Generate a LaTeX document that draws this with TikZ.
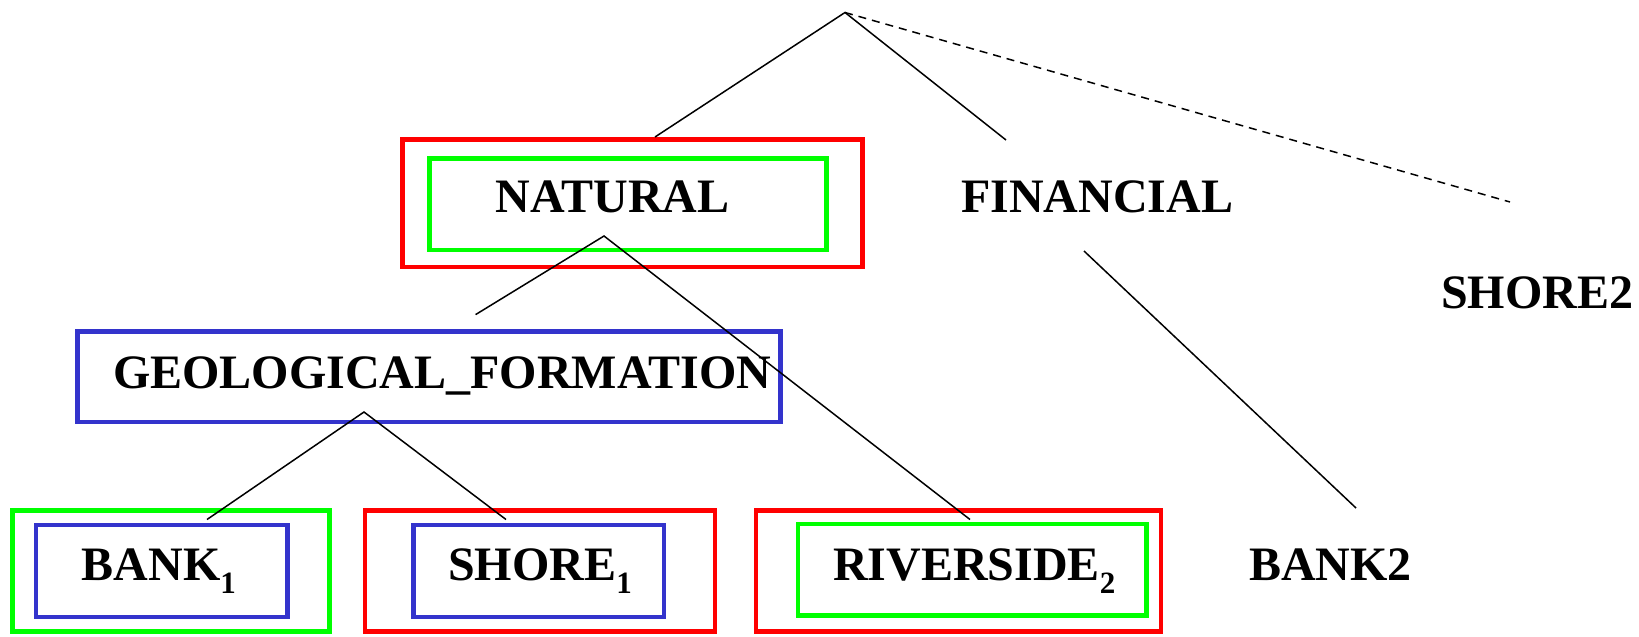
\documentclass[tikz,border=0pt]{standalone}
\usepackage{fontspec}
\setmainfont{Liberation Serif}
\definecolor{boxred}{RGB}{255,0,0}
\definecolor{boxgreen}{RGB}{0,255,0}
\definecolor{boxblue}{RGB}{51,51,204}
\newcommand\subidx[1]{\raisebox{-0.28em}{\fontsize{31}{31}\selectfont #1}}
\tikzset{
  frame/.style={draw, line width=4.5pt, rectangle, inner sep=0pt, minimum width=#1},
  redframe/.style={frame=10pt, draw=boxred},
  greenframe/.style={frame=10pt, draw=boxgreen},
  blueframe/.style={frame=10pt, draw=boxblue},
  label/.style={anchor=base west, inner sep=0pt, font=\fontsize{48}{56}\selectfont\bfseries},
  branch/.style={line width=1.5pt},
  guess/.style={line width=1.5pt, dash pattern=on 8pt off 6pt},
}
\begin{document}
\begin{tikzpicture}[x=1pt,y=-1pt]
\useasboundingbox (0,0) rectangle (1639,637);

% frames
\node[redframe, minimum width=460pt, minimum height=127.5pt] (natR) at (632.5,203) {};
\node[greenframe, minimum width=397pt, minimum height=91.5pt] (natG) at (628,204) {};
\node[blueframe, minimum width=703pt, minimum height=90.5pt] (geoB) at (429,376.5) {};
\node[greenframe, minimum width=317pt, minimum height=121pt] (bankG) at (171,571) {};
\node[blueframe, minimum width=251.5pt, minimum height=92pt] (bankB) at (161.5,570.8) {};
\node[redframe, minimum width=350pt, minimum height=121pt] (shoreR) at (540,571) {};
\node[blueframe, minimum width=250.5pt, minimum height=92pt] (shoreB) at (538.5,570.8) {};
\node[redframe, minimum width=405pt, minimum height=121pt] (rivR) at (958.5,571) {};
\node[greenframe, minimum width=348.5pt, minimum height=91.5pt] (rivG) at (972,569.7) {};

% labels
\node[label] (natural) at (495.5,212) {NATURAL};
\node[label] (financial) at (961,212) {FINANCIAL};
\node[label] (shoretwo) at (1441,308) {SHORE2};
\node[label] (geo) at (113,388) {GEOLOGICAL\_FORMATION};
\node[label] (bankone) at (81.5,580) {BANK\subidx{1}};
\node[label] (shoreone) at (448,580) {SHORE\subidx{1}};
\node[label] (riverside) at (833,580) {RIVERSIDE\subidx{2}};
\node[label] (banktwo) at (1249,580) {BANK2};

% branch points and ends
\coordinate (root) at (845,12.5);
\coordinate (rootL) at (655,137);
\coordinate (rootM) at (1006,140);
\coordinate (rootR) at (1510,202);
\coordinate (natTop) at (604,236);
\coordinate (natL) at (475.6,314.6);
\coordinate (natR2) at (970,519.5);
\coordinate (finTop) at (1084,251);
\coordinate (finEnd) at (1356,508);
\coordinate (geoTop) at (364,412);
\coordinate (geoL) at (207,519.5);
\coordinate (geoR) at (506,519.5);

% tree edges
\draw[branch] (rootL) -- (root) -- (rootM);
\draw[guess] (root) -- (rootR);
\draw[branch] (natL) -- (natTop) -- (natR2);
\draw[branch] (finTop) -- (finEnd);
\draw[branch] (geoL) -- (geoTop) -- (geoR);
\end{tikzpicture}
\end{document}
